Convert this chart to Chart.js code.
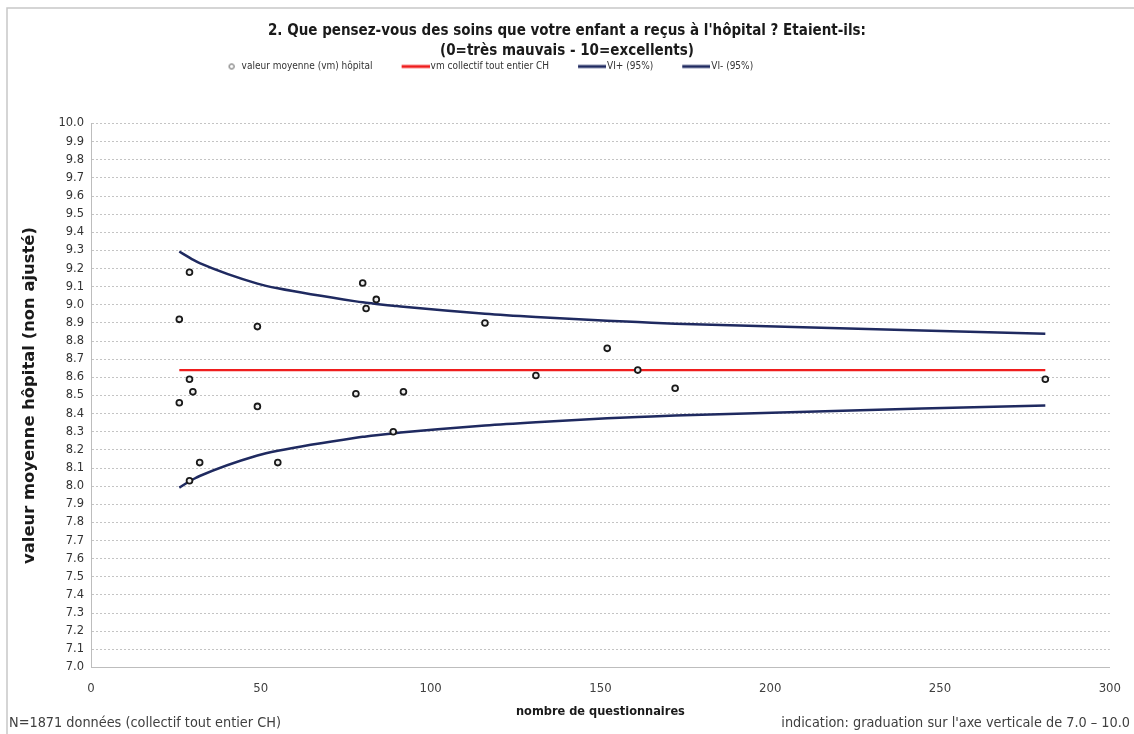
<!DOCTYPE html>
<html lang="fr"><head><meta charset="utf-8">
<title>Funnel plot</title>
<script src="https://cdn.jsdelivr.net/npm/chart.js@4.4.1/dist/chart.umd.min.js"></script>
<style>
html,body{margin:0;padding:0;background:#fff;overflow:hidden;}
#box{position:relative;width:1134px;height:734px;}
canvas{display:block;}
</style></head><body>
<div id="box"><canvas id="chart" width="1134" height="734"></canvas></div>
<script>
// ---------- data ----------
const titleLines = ["2. Que pensez-vous des soins que votre enfant a reçus à l'hôpital ? Etaient-ils:", "(0=très mauvais - 10=excellents)"];
const seriesNames = ["valeur moyenne (vm) hôpital", "vm collectif tout entier CH", "VI+ (95%)", "VI- (95%)"];
const xAxisTitle = "nombre de questionnaires";
const yAxisTitle = "valeur moyenne hôpital (non ajusté)";
const footLeft = "N=1871 données (collectif tout entier CH)";
const footRight = "indication: graduation sur l'axe verticale de 7.0 – 10.0";

const hospitalN    = [26, 26, 29, 29, 29, 30, 32, 49, 49, 55, 78, 80, 81, 84, 89, 92, 116, 131, 152, 161, 172, 281];
const hospitalMean = [8.92, 8.46, 9.18, 8.59, 8.03, 8.52, 8.13, 8.88, 8.44, 8.13, 8.51, 9.12, 8.98, 9.03, 8.30, 8.52, 8.90, 8.61, 8.76, 8.64, 8.54, 8.59];

const limitN     = [26, 29, 30, 32, 49, 55, 78, 80, 81, 84, 89, 92, 116, 131, 152, 161, 172, 281];
const upperLimit = [9.294, 9.260, 9.249, 9.230, 9.117, 9.091, 9.019, 9.014, 9.012, 9.005, 8.995, 8.989, 8.951, 8.933, 8.912, 8.905, 8.896, 8.841];
const lowerLimit = [7.992, 8.027, 8.037, 8.056, 8.169, 8.195, 8.267, 8.272, 8.274, 8.281, 8.291, 8.297, 8.335, 8.353, 8.374, 8.381, 8.390, 8.445];

const collectiveN    = [26, 281];
const collectiveMean = [8.64, 8.64];

const xAxisRange = [0, 300];
const xAxisStep  = 50;
const yAxisRange = [7.0, 10.0];
const yAxisStep  = 0.1;

// ---------- fonts ----------
const mctx = document.createElement('canvas').getContext('2d');
function hasFont(name){
  const s = 'mmmmmmmmmmlli1234567890WQabcdefgh';
  mctx.font = '40px monospace'; const a = mctx.measureText(s).width;
  mctx.font = '40px "' + name + '", monospace'; const b = mctx.measureText(s).width;
  return Math.abs(a - b) > 0.5;
}
const NARROW = hasFont('Liberation Sans Narrow') ? '"Liberation Sans Narrow", "Liberation Sans", sans-serif'
             : (hasFont('DejaVu Sans Condensed') ? '"DejaVu Sans Condensed", sans-serif' : 'Roboto, sans-serif');
const WIDE = '"DejaVu Sans", Verdana, sans-serif';
function textW(text, weight, size, family){ mctx.font = weight + ' ' + size + 'px ' + family; return mctx.measureText(text).width; }
function fitSize(text, weight, family, target){ return +(100 * target / textW(text, weight, 100, family)).toFixed(2); }
const titleSize  = fitSize(titleLines[0], 'bold', NARROW, 598);
const legendSize = fitSize(seriesNames[0], 'normal', NARROW, 131);
const xTitleSize = fitSize(xAxisTitle, 'bold', NARROW, 169);
const footSize   = fitSize(footLeft, 'normal', NARROW, 272);
const yTitleSize = fitSize(yAxisTitle, 'bold', WIDE, 337);

// ---------- colours ----------
const NAVY = '#1f2a60', RED = '#ef1d1d', GRID = '#c4c4c4', AXIS = '#bdbdbd', TXT = '#333333';

// ---------- layout targets ----------
const PAD_SIDE = 23;
const PLOT_LEFT = 91, PLOT_RIGHT = 1111, PLOT_TOP = 123.5, PLOT_BOTTOM = 667.5;
const TITLE_Y = 31, TITLE_LINE = 20.5, LEGEND_Y = 66.5;
const LEG_BOX = 28, LEG_PAD = 25, LEG_FIRST_MARK = 231;

// ---------- legend icons ----------
const halfF = legendSize / 2;
const ICON_W = Math.round(2 * (LEG_BOX / 2 + halfF - 1));
function makeIcon(kind, color){
  const c = document.createElement('canvas'); c.width = ICON_W; c.height = 12;
  const g = c.getContext('2d');
  g.strokeStyle = color;
  if (kind === 'line') { g.lineWidth = 3; g.beginPath(); g.moveTo(ICON_W - LEG_BOX, 6); g.lineTo(ICON_W, 6); g.stroke(); }
  else if (kind === 'circle') { g.lineWidth = 1; g.beginPath(); g.arc(ICON_W - 9, 6, 2.5, 0, Math.PI * 2); g.stroke(); }
  return c;
}
const icons = [makeIcon('circle', '#555'), makeIcon('line', RED), makeIcon('line', NAVY), makeIcon('line', NAVY)];
const blankIcon = makeIcon('none', '#fff');

// trailing blank entry so that the centred row starts where the reference legend starts
const itemW = t => LEG_BOX + halfF + textW(t, 'normal', legendSize, NARROW) + LEG_PAD;
const baseRow = seriesNames.reduce((s, t) => s + itemW(t), 0);
const iconLeftOffset = (LEG_BOX - ICON_W) / 2;
const markOffset = iconLeftOffset + ICON_W - 9;
const rowStart = LEG_FIRST_MARK - markOffset;
const wantedRow = PAD_SIDE + LEG_PAD + (1134 - PAD_SIDE) - 2 * rowStart;
const spaceW = textW(' ', 'normal', legendSize, NARROW);
const nSpaces = Math.max(0, Math.round((wantedRow - baseRow - LEG_BOX - halfF - LEG_PAD) / spaceW));
const spacerText = ' '.repeat(nSpaces);

const decor = {
  id: 'decor',
  beforeDraw(chart){
    const c = chart.ctx; c.save();
    c.fillStyle = '#fff'; c.fillRect(0, 0, chart.width, chart.height);
    c.strokeStyle = '#c8c8c8'; c.lineWidth = 1.5;
    c.beginPath(); c.moveTo(7, 740); c.lineTo(7, 8); c.lineTo(1134, 8); c.stroke();
    c.restore();
  },
  afterDraw(chart){
    const c = chart.ctx; c.save();
    c.font = 'normal ' + footSize + 'px ' + NARROW; c.fillStyle = '#404040'; c.textBaseline = 'middle';
    c.textAlign = 'left'; c.fillText(footLeft, 9, 723);
    c.textAlign = 'right'; c.fillText(footRight, 1130, 723);
    c.restore();
  }
};

new Chart(document.getElementById('chart'), {
  type: 'scatter',
  data: {
    datasets: [
      { label: seriesNames[0], xAxisID: 'x', yAxisID: 'y',
        data: hospitalN.map((n, i) => ({x: n, y: hospitalMean[i]})),
        showLine: false, pointRadius: 2.9, pointHoverRadius: 2.9, pointBorderWidth: 1.8,
        borderColor: '#1a1a1a', backgroundColor: '#eeeeee', pointStyle: 'circle' },
      { label: seriesNames[1], xAxisID: 'x', yAxisID: 'y',
        data: collectiveN.map((n, i) => ({x: n, y: collectiveMean[i]})),
        showLine: true, pointRadius: 0, borderColor: RED, borderWidth: 2.2, backgroundColor: RED },
      { label: seriesNames[2], xAxisID: 'x', yAxisID: 'y',
        data: limitN.map((n, i) => ({x: n, y: upperLimit[i]})),
        showLine: true, pointRadius: 0, borderColor: NAVY, borderWidth: 2.5, backgroundColor: NAVY,
        cubicInterpolationMode: 'monotone' },
      { label: seriesNames[3], xAxisID: 'x', yAxisID: 'y',
        data: limitN.map((n, i) => ({x: n, y: lowerLimit[i]})),
        showLine: true, pointRadius: 0, borderColor: NAVY, borderWidth: 2.5, backgroundColor: NAVY,
        cubicInterpolationMode: 'monotone' }
    ]
  },
  options: {
    responsive: false, animation: false, devicePixelRatio: 1,
    layout: { padding: { left: PAD_SIDE, right: 1134 - PLOT_RIGHT, top: 0, bottom: 0 } },
    plugins: {
      tooltip: { enabled: false },
      title: { display: true, text: titleLines, color: '#1a1a1a',
        font: { family: NARROW, size: titleSize, weight: 'bold', lineHeight: TITLE_LINE / titleSize },
        padding: { top: TITLE_Y - TITLE_LINE / 2,
                   bottom: LEGEND_Y - LEG_PAD - halfF - (TITLE_Y - TITLE_LINE / 2) - 2 * TITLE_LINE } },
      legend: { display: true, position: 'top', align: 'center',
        labels: { usePointStyle: true, pointStyleWidth: LEG_BOX, padding: LEG_PAD, color: '#333333',
          font: { family: NARROW, size: legendSize },
          generateLabels(chart){
            const items = chart.data.datasets.map((ds, i) => ({ text: ds.label, pointStyle: icons[i],
              fillStyle: 'rgba(0,0,0,0)', strokeStyle: 'rgba(0,0,0,0)', lineWidth: 1,
              hidden: false, datasetIndex: i, fontColor: '#333333' }));
            if (nSpaces > 0) items.push({ text: spacerText, pointStyle: blankIcon,
              fillStyle: 'rgba(0,0,0,0)', strokeStyle: 'rgba(0,0,0,0)', lineWidth: 1,
              hidden: false, datasetIndex: -1, fontColor: 'rgba(0,0,0,0)' });
            return items;
          } },
        onClick: () => {} }
    },
    scales: {
      x: { type: 'linear', position: 'bottom', min: xAxisRange[0], max: xAxisRange[1],
        ticks: { stepSize: xAxisStep, color: '#404040', font: { family: NARROW, size: 13 }, padding: 13, maxRotation: 0 },
        grid: { display: true, drawOnChartArea: false, drawTicks: false, color: AXIS },
        border: { display: true, color: AXIS, width: 1 },
        title: { display: true, text: xAxisTitle, color: '#1a1a1a',
          font: { family: NARROW, size: xTitleSize, weight: 'bold', lineHeight: 1.2 },
          padding: { top: 0, bottom: (734 - 712) - xTitleSize * 0.6 } },
        afterFit(s){ s.height = 734 - PLOT_BOTTOM; } },
      y: { type: 'linear', position: 'left', min: yAxisRange[0], max: yAxisRange[1],
        ticks: { stepSize: yAxisStep, maxTicksLimit: 40, autoSkip: false, color: TXT,
          font: { family: WIDE, size: 11.5 }, padding: 7, callback: v => Number(v).toFixed(1) },
        grid: { display: true, drawTicks: false, color: GRID, lineWidth: 1 },
        border: { display: true, color: AXIS, width: 1, dash: [2, 2] },
        title: { display: true, text: yAxisTitle, color: '#1a1a1a',
          font: { family: WIDE, size: yTitleSize, weight: 'bold', lineHeight: 1.0 },
          padding: { top: 30 - PAD_SIDE - yTitleSize * 0.5, bottom: 0 } },
        afterFit(s){ s.width = PLOT_LEFT - PAD_SIDE; } },
      spacer: { type: 'linear', axis: 'x', position: 'top', display: true,
        ticks: { display: false }, grid: { display: false }, border: { display: false },
        afterFit(s){
          const ch = s.chart;
          const used = (ch.titleBlock ? ch.titleBlock.height : 0) + (ch.legend ? ch.legend.height : 0);
          s.height = Math.max(0, PLOT_TOP - used);
        } }
    }
  },
  plugins: [decor]
});
</script>
</body></html>
